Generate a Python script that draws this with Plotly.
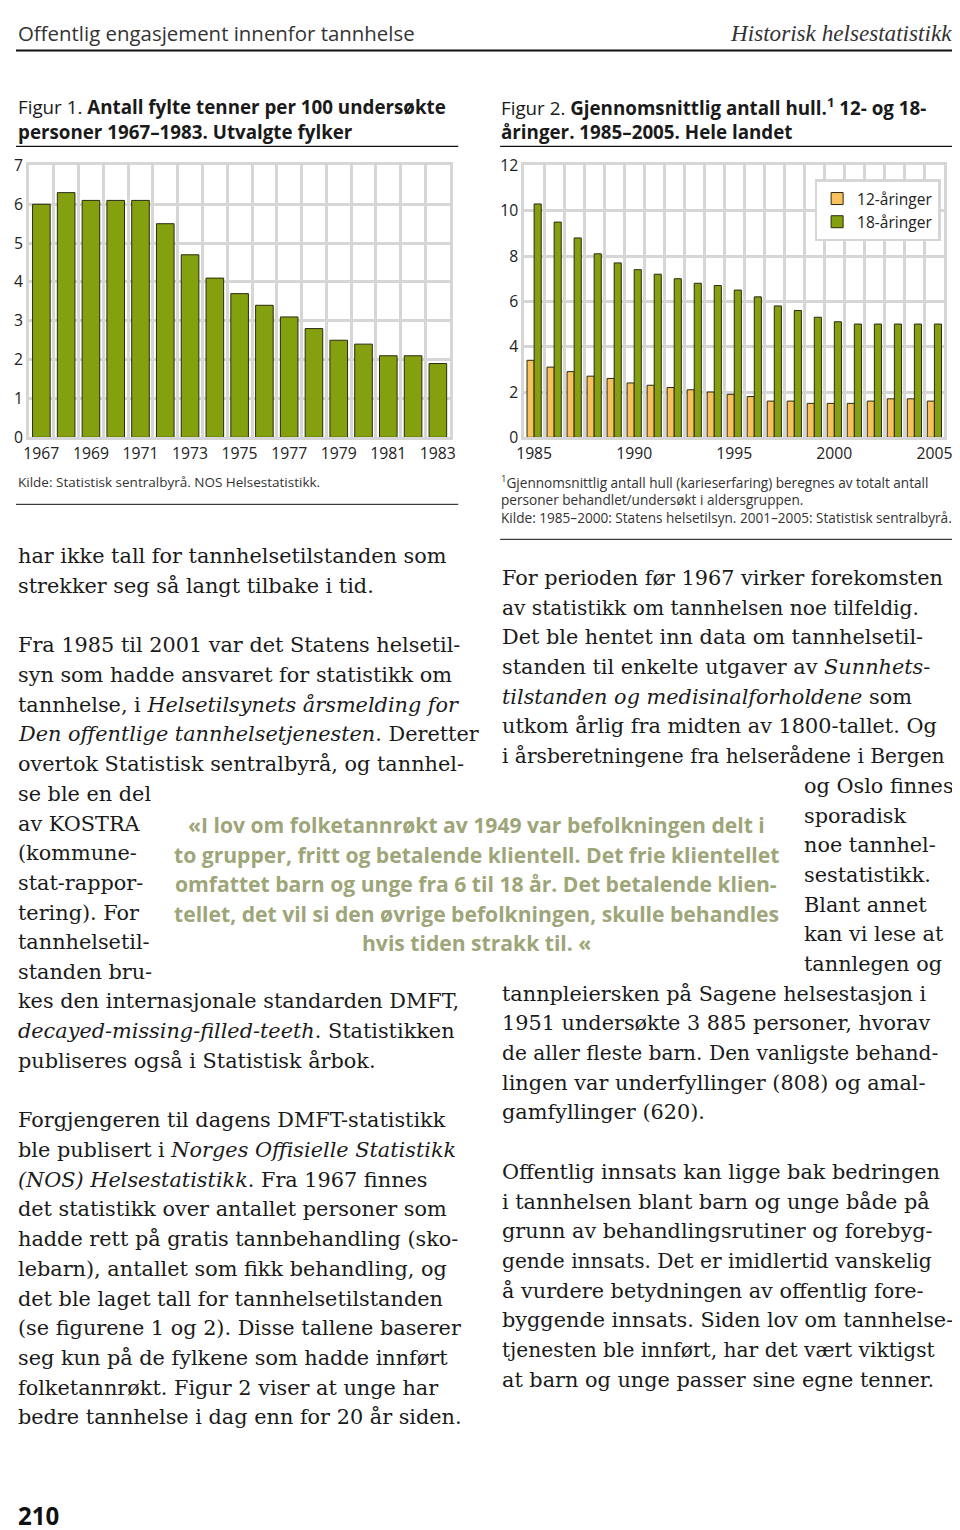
import plotly.graph_objects as go

# ---------------- data ----------------
years_fig1 = list(range(1967, 1984))
filled_teeth = [6.0, 6.3, 6.1, 6.1, 6.1, 5.5, 4.7, 4.1, 3.7, 3.4, 3.1, 2.8, 2.5, 2.4, 2.1, 2.1, 1.9]
fig1_ticks = [1967, 1969, 1971, 1973, 1975, 1977, 1979, 1981, 1983]

years_fig2 = list(range(1985, 2006))
holes_12 = [3.4, 3.1, 2.9, 2.7, 2.6, 2.4, 2.3, 2.2, 2.1, 2.0, 1.9, 1.8, 1.6, 1.6, 1.5, 1.5, 1.5, 1.6, 1.7, 1.7, 1.6]
holes_18 = [10.3, 9.5, 8.8, 8.1, 7.7, 7.4, 7.2, 7.0, 6.8, 6.7, 6.5, 6.2, 5.8, 5.6, 5.3, 5.1, 5.0, 5.0, 5.0, 5.0, 5.0]
fig2_ticks = [1985, 1990, 1995, 2000, 2005]
series_names = ["12-åringer", "18-åringer"]

# ---------------- text ----------------
header_left = "Offentlig engasjement innenfor tannhelse"
header_right = "Historisk helsestatistikk"
fig1_title = ["Figur 1. <b>Antall fylte tenner per 100 undersøkte</b>",
              "<b>personer 1967–1983. Utvalgte fylker</b>"]
fig2_title = ["Figur 2. <b>Gjennomsnittlig antall hull.<sup>1</sup> 12- og 18-</b>",
              "<b>åringer. 1985–2005. Hele landet</b>"]
fig1_source = "Kilde: Statistisk sentralbyrå. NOS Helsestatistikk."
fig2_notes = ["<sup>1</sup>Gjennomsnittlig antall hull (karieserfaring) beregnes av totalt antall",
              "personer behandlet/undersøkt i aldersgruppen.",
              "Kilde: 1985–2000: Statens helsetilsyn. 2001–2005: Statistisk sentralbyrå."]

left_col = [
    (556, "har ikke tall for tannhelsetilstanden som"),
    (586, "strekker seg så langt tilbake i tid."),
    (645, "Fra 1985 til 2001 var det Statens helsetil-"),
    (675, "syn som hadde ansvaret for statistikk om"),
    (705, "tannhelse, i <i>Helsetilsynets årsmelding for</i>"),
    (734, "<i>Den offentlige tannhelsetjenesten</i>. Deretter"),
    (764, "overtok Statistisk sentralbyrå, og tannhel-"),
    (794, "se ble en del"),
    (824, "av KOSTRA"),
    (853, "(kommune-"),
    (883, "stat-rappor-"),
    (913, "tering). For"),
    (942, "tannhelsetil-"),
    (972, "standen bru-"),
    (1001, "kes den internasjonale standarden DMFT,"),
    (1031, "<i>decayed-missing-filled-teeth</i>. Statistikken"),
    (1061, "publiseres også i Statistisk årbok."),
    (1120, "Forgjengeren til dagens DMFT-statistikk"),
    (1150, "ble publisert i <i>Norges Offisielle Statistikk</i>"),
    (1180, "<i>(NOS) Helsestatistikk</i>. Fra 1967 finnes"),
    (1209, "det statistikk over antallet personer som"),
    (1239, "hadde rett på gratis tannbehandling (sko-"),
    (1269, "lebarn), antallet som fikk behandling, og"),
    (1299, "det ble laget tall for tannhelsetilstanden"),
    (1328, "(se figurene 1 og 2). Disse tallene baserer"),
    (1358, "seg kun på de fylkene som hadde innført"),
    (1388, "folketannrøkt. Figur 2 viser at unge har"),
    (1417, "bedre tannhelse i dag enn for 20 år siden."),
]
right_col = [
    (501, 578, "For perioden før 1967 virker forekomsten"),
    (501, 608, "av statistikk om tannhelsen noe tilfeldig."),
    (501, 637, "Det ble hentet inn data om tannhelsetil-"),
    (501, 667, "standen til enkelte utgaver av <i>Sunnhets-</i>"),
    (501, 697, "<i>tilstanden og medisinalforholdene</i> som"),
    (501, 726, "utkom årlig fra midten av 1800-tallet. Og"),
    (501, 756, "i årsberetningene fra helserådene i Bergen"),
    (803, 786, "og Oslo finnes"),
    (803, 816, "sporadisk"),
    (803, 845, "noe tannhel-"),
    (803, 875, "sestatistikk."),
    (803, 905, "Blant annet"),
    (803, 934, "kan vi lese at"),
    (803, 964, "tannlegen og"),
    (501, 994, "tannpleiersken på Sagene helsestasjon i"),
    (501, 1023, "1951 undersøkte 3 885 personer, hvorav"),
    (501, 1053, "de aller fleste barn. Den vanligste behand-"),
    (501, 1083, "lingen var underfyllinger (808) og amal-"),
    (501, 1112, "gamfyllinger (620)."),
    (501, 1172, "Offentlig innsats kan ligge bak bedringen"),
    (501, 1202, "i tannhelsen blant barn og unge både på"),
    (501, 1231, "grunn av behandlingsrutiner og forebyg-"),
    (501, 1261, "gende innsats. Det er imidlertid vanskelig"),
    (501, 1291, "å vurdere betydningen av offentlig fore-"),
    (501, 1320, "byggende innsats. Siden lov om tannhelse-"),
    (501, 1350, "tjenesten ble innført, har det vært viktigst"),
    (501, 1380, "at barn og unge passer sine egne tenner."),
]
quote_lines = [
    (824, "«I lov om folketannrøkt av 1949 var befolkningen delt i"),
    (854, "to grupper, fritt og betalende klientell. Det frie klientellet"),
    (883, "omfattet barn og unge fra 6 til 18 år. Det betalende klien-"),
    (913, "tellet, det vil si den øvrige befolkningen, skulle behandles"),
    (942, "hvis tiden strakk til. «"),
]
page_number = "210"

# ---------------- style / geometry ----------------
# measured mapping of the photographed page: shown = O + S * figure_px
OX, OY = 16.0, 18.5
SX, SY = 0.985, 0.986
FW = int(round((960 - OX) / SX))
FH = int(round((1530 - OY) / SY))
GREEN = "#84a00e"
ORANGE = "#f8c15c"
EDGE = "#2a2a10"
GRID = "#d6d6d6"
SANS = "Open Sans"
SERIF = "DejaVu Serif"
QUOTE = "#9ea679"
BODY = 20.5


def px(x):
    return max((x - OX) / SX, 0) / FW


def py(y):
    return 1 - ((y - OY) / SY) / FH


def fs(size):
    return round(size / SX, 2)


fig = go.Figure()
fig.add_trace(go.Bar(x=years_fig1, y=filled_teeth, marker=dict(color=GREEN, line=dict(color=EDGE, width=1)),
                     showlegend=False, xaxis="x", yaxis="y"))
fig.add_trace(go.Bar(x=years_fig2, y=holes_12, name=series_names[0],
                     marker=dict(color=ORANGE, line=dict(color=EDGE, width=1)), xaxis="x2", yaxis="y2"))
fig.add_trace(go.Bar(x=years_fig2, y=holes_18, name=series_names[1],
                     marker=dict(color=GREEN, line=dict(color=EDGE, width=1)), xaxis="x2", yaxis="y2"))

tickfont = dict(family=SANS, size=fs(15.5), color="#222")
common_x = dict(showgrid=False, showline=True, linecolor=GRID, linewidth=2.5, mirror=True,
                ticks="", zeroline=False, tickfont=tickfont, fixedrange=True)
common_y = dict(showgrid=True, gridcolor=GRID, gridwidth=2.5, showline=True, linecolor=GRID, linewidth=2.5,
                mirror=True, ticks="", zeroline=False, tickfont=tickfont, dtick=1)

fig.update_layout(
    width=FW, height=FH, margin=dict(l=0, r=0, t=0, b=0),
    paper_bgcolor="white", plot_bgcolor="white",
    barmode="group", bargap=0.29, bargroupgap=0,
    xaxis=dict(domain=[px(29), px(451)], range=[1966.5, 1983.5], tickmode="array", tickvals=fig1_ticks,
               minor=dict(tickmode="linear", tick0=1966.5, dtick=1, showgrid=True, gridcolor=GRID, gridwidth=2.5),
               anchor="y", **common_x),
    yaxis=dict(domain=[py(437), py(165)], range=[0, 7], anchor="x", **common_y),
    xaxis2=dict(domain=[px(525), px(946)], range=[1984.5, 2005.5], tickmode="array", tickvals=fig2_ticks,
                minor=dict(tickmode="linear", tick0=1984.5, dtick=1, showgrid=True, gridcolor=GRID, gridwidth=2.5),
                anchor="y2", **common_x),
    yaxis2=dict(domain=[py(437), py(165)], range=[0, 12], anchor="x2", **{**common_y, "dtick": 2}),
    legend=dict(x=px(816), y=py(179), xanchor="left", yanchor="top", bgcolor="white",
                bordercolor=GRID, borderwidth=2.5, font=dict(family=SANS, size=fs(15.3), color="#222"),
                tracegroupgap=2, itemwidth=30),
    font=dict(family=SANS, color="#222"),
)

ann = []


def text(x, y, s, family=SERIF, size=BODY, color="#1a1a1a", xanchor="left", weight=None):
    f = dict(family=family, size=fs(size), color=color)
    if weight:
        f["weight"] = weight
    ann.append(dict(x=px(x), y=py(y), xref="paper", yref="paper", text=s, showarrow=False,
                    xanchor=xanchor, yanchor="middle", font=f, align=xanchor if xanchor != "center" else "center"))


# header (kept inside the drawing area)
text(2, 33, header_left, family=SANS, size=20.1, color="#333")
text(956, 33, "<i>" + header_right + "</i>", family="Liberation Serif", size=22.8, color="#333", xanchor="right")

# figure titles
for i, s in enumerate(fig1_title):
    text(2, 107 + 25 * i, s, family=SANS, size=18.5, color="#1a1a1a")
for i, s in enumerate(fig2_title):
    text(500, 107 + 25 * i, s, family=SANS, size=18.5, color="#1a1a1a")

text(2, 482, fig1_source, family=SANS, size=13.3, color="#333")
for i, s in enumerate(fig2_notes):
    text(500, 482 + 17.5 * i, s, family=SANS, size=13.4, color="#333")

for y, s in left_col:
    text(2, y, s)
for x, y, s in right_col:
    # keep the widest right-column lines inside the page edge
    size = 19.9 if len(s) >= 42 and "<i>" not in s else BODY
    text(x, y, s, size=size)
for y, s in quote_lines:
    text(477, y, s, family=SANS, size=20.8, color=QUOTE, xanchor="center", weight="bold")

text(2, 1516, "<b>" + page_number + "</b>", family=SANS, size=23.7, color="#111")

fig.update_layout(annotations=ann)

shapes = [
    dict(type="line", xref="paper", yref="paper", x0=px(3), x1=px(958), y0=py(50), y1=py(50),
         line=dict(color="#111", width=2)),
    dict(type="line", xref="paper", yref="paper", x0=px(3), x1=px(459), y0=py(146), y1=py(146),
         line=dict(color="#111", width=1.3)),
    dict(type="line", xref="paper", yref="paper", x0=px(501), x1=px(958), y0=py(146), y1=py(146),
         line=dict(color="#111", width=1.3)),
    dict(type="line", xref="paper", yref="paper", x0=px(3), x1=px(459), y0=py(504), y1=py(504),
         line=dict(color="#111", width=1)),
    dict(type="line", xref="paper", yref="paper", x0=px(501), x1=px(958), y0=py(539), y1=py(539),
         line=dict(color="#111", width=1)),
]
fig.update_layout(shapes=shapes)

fig.write_html("out.html")
